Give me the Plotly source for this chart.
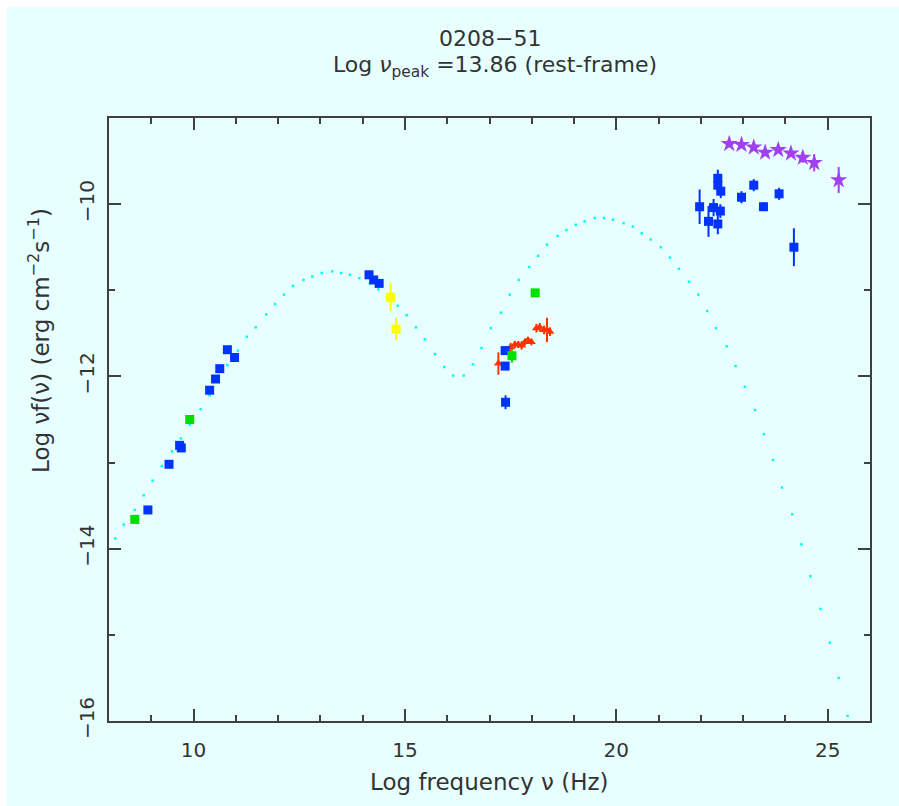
import plotly.graph_objects as go

# ---------------- data (log nu [Hz], log nuF(nu) [erg cm^-2 s^-1]) ----------------
radio_blue_x = [8.92, 9.42, 9.67, 9.71, 10.38, 10.52, 10.62, 10.80, 10.97]
radio_blue_y = [-13.55, -13.02, -12.80, -12.83, -12.16, -12.03, -11.91, -11.69, -11.78]

green_x = [8.61, 9.91, 17.53, 18.08]
green_y = [-13.66, -12.50, -11.76, -11.03]
green_err = [0.0, 0.0, 0.08, 0.0]

ir_blue_x = [14.15, 14.26, 14.39]
ir_blue_y = [-10.82, -10.88, -10.92]

yellow_x = [14.66, 14.79]
yellow_y = [-11.08, -11.45]
yellow_err = [0.165, 0.13]

xray_blue_x = [17.37, 17.37, 17.38]
xray_blue_y = [-11.70, -11.88, -12.30]
xray_blue_err = [0.04, 0.04, 0.08]

red_x = [17.21, 17.40, 17.50, 17.60, 17.68, 17.76, 17.84, 17.91, 17.99, 18.11, 18.19, 18.29, 18.36, 18.43]
red_y = [-11.85, -11.70, -11.66, -11.63, -11.63, -11.64, -11.60, -11.58, -11.60, -11.44, -11.43, -11.46, -11.46, -11.48]
red_err = [0.13, 0.05, 0.05, 0.04, 0.04, 0.05, 0.04, 0.04, 0.04, 0.05, 0.05, 0.05, 0.14, 0.05]

gamma_blue_x = [21.97, 22.18, 22.40, 22.40, 22.47, 22.30, 22.46, 22.40, 22.96, 23.25, 23.48, 23.85, 24.20]
gamma_blue_y = [-10.03, -10.20, -9.70, -9.78, -9.85, -10.04, -10.08, -10.23, -9.92, -9.78, -10.03, -9.88, -10.50]
gamma_blue_err = [0.20, 0.18, 0.10, 0.08, 0.08, 0.10, 0.08, 0.12, 0.07, 0.07, 0.05, 0.07, 0.22]

star_x = [22.67, 22.96, 23.25, 23.52, 23.83, 24.13, 24.41, 24.68, 25.26]
star_y = [-9.30, -9.31, -9.34, -9.40, -9.37, -9.41, -9.46, -9.52, -9.72]
star_err = [0.03, 0.03, 0.03, 0.04, 0.03, 0.04, 0.06, 0.10, 0.15]

model_x = [8.15, 8.35, 8.61, 8.82, 9.03, 9.25, 9.49, 9.70, 9.91, 10.17, 10.38, 10.59, 10.80,
           11.05, 11.26, 11.47, 11.72, 11.93, 12.14, 12.35, 12.60, 12.81, 13.03, 13.28,
           13.49, 13.70, 13.92, 14.17, 14.37, 14.60, 14.83, 15.04, 15.26, 15.47, 15.71,
           15.93, 16.14, 16.39, 16.61, 16.81, 17.03, 17.27, 17.48, 17.69, 17.94, 18.15,
           18.36, 18.61, 18.82, 19.04, 19.25, 19.49, 19.71, 19.92, 20.17, 20.39, 20.60,
           20.81, 21.05, 21.27, 21.48, 21.72, 21.94, 22.15, 22.36, 22.61, 22.82, 23.04,
           23.28, 23.49, 23.71, 23.92, 24.16, 24.38, 24.59, 24.83, 25.05, 25.26, 25.47]
model_y = [-13.88, -13.72, -13.55, -13.38, -13.21, -13.04, -12.87, -12.72, -12.56, -12.38,
           -12.22, -12.06, -11.87, -11.70, -11.54, -11.43, -11.28, -11.16, -11.05, -10.95,
           -10.88, -10.84, -10.80, -10.78, -10.80, -10.82, -10.86, -10.92, -10.99, -11.07,
           -11.18, -11.29, -11.43, -11.57, -11.74, -11.89, -11.99, -11.99, -11.86, -11.67,
           -11.44, -11.26, -11.05, -10.88, -10.73, -10.60, -10.47, -10.37, -10.30, -10.24,
           -10.20, -10.16, -10.16, -10.18, -10.22, -10.26, -10.34, -10.41, -10.50, -10.62,
           -10.75, -10.90, -11.05, -11.24, -11.44, -11.65, -11.88, -12.12, -12.39, -12.67,
           -12.97, -13.29, -13.60, -13.95, -14.32, -14.70, -15.09, -15.50, -15.94]

x_ticks = [10, 15, 20, 25]
y_ticks = [-16, -14, -12, -10]

# ---------------- styling ----------------
BG = "#E8FFFF"
TXT = "#333333"
AX = "#404040"
FONT = "DejaVu Sans"
BLUE = "#0033FF"
GREEN = "#00E000"
YELLOW = "#FFFF00"
RED = "#FF3300"
PURPLE = "#A040F0"
CYAN = "#00FFFF"

# plot-area geometry in pixels (for placing free text)
L, R, T, B = 109.3, 870.0, 117.7, 720.7
def px(xp):
    return (xp - L) / (R - L)
def py(yp):
    return (B - yp) / (B - T)

fig = go.Figure()

fig.add_trace(go.Scatter(x=model_x, y=model_y, mode="markers",
                         marker=dict(color=CYAN, size=2.5, symbol="square"),
                         hoverinfo="skip"))

def pts(x, y, color, symbol="square", size=9, err=None):
    kw = {}
    if err is not None:
        kw["error_y"] = dict(type="data", array=err, color=color, thickness=2, width=0)
    fig.add_trace(go.Scatter(x=x, y=y, mode="markers",
                             marker=dict(color=color, size=size, symbol=symbol,
                                         line=dict(width=0)), **kw))

pts(radio_blue_x, radio_blue_y, BLUE)
pts(ir_blue_x, ir_blue_y, BLUE)
pts(yellow_x, yellow_y, YELLOW, err=yellow_err)
pts(red_x, red_y, RED, symbol="triangle-up", size=8, err=red_err)
pts(xray_blue_x, xray_blue_y, BLUE, err=xray_blue_err)
pts(green_x, green_y, GREEN, err=green_err)
pts(gamma_blue_x, gamma_blue_y, BLUE, err=gamma_blue_err)
pts(star_x, star_y, PURPLE, symbol="star", size=13, err=star_err)

axis_common = dict(showline=True, linecolor=AX, linewidth=2, mirror="ticks",
                   ticks="inside", tickwidth=2, tickcolor=AX, ticklen=12,
                   showgrid=False, zeroline=False,
                   tickfont=dict(family=FONT, size=20, color=TXT),
                   minor=dict(ticks="inside", ticklen=6, tickwidth=2, tickcolor=AX, dtick=1,
                              showgrid=False))

fig.update_xaxes(range=[8, 26], tickvals=x_ticks, ticktext=[str(v) for v in x_ticks],
                 ticklabelstandoff=10, **axis_common)
fig.update_yaxes(range=[-16, -9], tickvals=y_ticks, ticktext=["\u2212" + str(-v) for v in y_ticks],
                 tickangle=-90, ticklabelstandoff=5, **axis_common)

fig.add_annotation(text="Log frequency ν (Hz)", xref="paper", yref="paper",
                   x=px(490), y=py(782), xanchor="center", yanchor="middle", showarrow=False,
                   font=dict(family=FONT, size=23, color=TXT))

fig.add_annotation(text="Log νf(ν) (erg cm<sup>−2</sup>s<sup>−1</sup>)", textangle=-90,
                   xref="paper", yref="paper", x=px(40), y=py(340),
                   xanchor="center", yanchor="middle", showarrow=False,
                   font=dict(family=FONT, size=23, color=TXT))

fig.add_annotation(text="0208−51", xref="paper", yref="paper",
                   x=px(490), y=py(38), showarrow=False,
                   xanchor="center", yanchor="middle",
                   font=dict(family=FONT, size=22, color=TXT))
fig.add_annotation(text="Log <i>ν</i><sub>peak</sub> =13.86 (rest-frame)", xref="paper", yref="paper",
                   x=px(495), y=py(66), showarrow=False,
                   xanchor="center", yanchor="middle",
                   font=dict(family=FONT, size=22, color=TXT))

# cyan page area with thin white border on the top/left
fig.add_shape(type="rect", xref="paper", yref="paper", layer="below",
              x0=px(7), x1=px(899), y0=py(806), y1=py(7),
              fillcolor=BG, line=dict(width=0))

fig.update_layout(width=899, height=806, showlegend=False,
                  paper_bgcolor="white", plot_bgcolor=BG,
                  margin=dict(l=109, r=29, t=118, b=85, pad=0),
                  font=dict(family=FONT, color=TXT))

fig.write_html("out.html")
